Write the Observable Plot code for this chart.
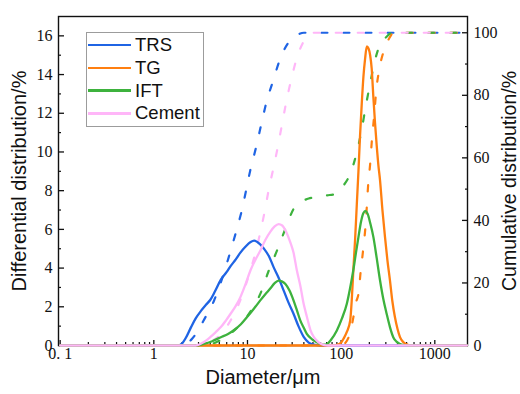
<!DOCTYPE html>
<html>
<head>
<meta charset="utf-8">
<script src="https://cdn.jsdelivr.net/npm/d3@7"></script>
<script src="https://cdn.jsdelivr.net/npm/@observablehq/plot@0.6"></script>
<style>
  body { margin: 0; background: #fff; }
  #chart { position: relative; width: 520px; height: 394px; }
  .legend { position: absolute; left: 86px; top: 32px; width: 118px; height: 95px; box-sizing: border-box;
            border: 1px solid #9c9c9c; background: #fff; font-family: "Liberation Sans", Arial, sans-serif;
            font-size: 18.5px; color: #111; }
  .legend .row { position: absolute; left: 0; height: 22px; display: flex; align-items: center; }
  .legend .sw { width: 43px; height: 2.5px; margin-left: 1px; margin-right: 4px; }
</style>
</head>
<body>
<div id="chart"></div>
<script>
// Particle size distributions: [diameter in µm, value in %]
const seriesNames = ["TRS", "TG", "IFT", "Cement"];
const seriesColors = ["#1f64e4", "#ff7f10", "#3db23d", "#ffb6f8"];

// Differential distribution (%), left axis
const trsDiff = [[0.1,0],[1.8,0],[2.0,0.1],[2.2,0.4],[2.5,0.95],[2.8,1.4],[3.2,1.8],[3.6,2.1],[4.0,2.35],[4.5,2.8],[5.2,3.4],[6.0,3.8],[6.6,4.1],[7.5,4.45],[8.4,4.8],[9.5,5.1],[10.8,5.35],[11.8,5.42],[13.5,5.25],[15,5.0],[17,4.6],[19,4.05],[21.5,3.5],[24.3,2.85],[27.5,2.2],[31,1.64],[35,1.0],[40,0.43],[45,0.15],[51,0.04],[60,0],[2200,0]];
const tgDiff = [[0.1,0],[80,0],[90,0.03],[100,0.15],[106,0.35],[115,0.7],[125,1.3],[130,2.4],[135,3.9],[141,5.5],[147,7.3],[153,9.0],[159,10.8],[166,12.5],[173,13.9],[180,14.8],[188,15.45],[196,15.35],[204,15.0],[212,14.3],[221,12.8],[230,11.5],[240,10.3],[250,9.3],[260,8.55],[276,7.0],[294,5.6],[312,4.4],[332,3.37],[352,2.3],[375,1.47],[400,0.85],[425,0.43],[460,0.18],[500,0.06],[550,0],[2200,0]];
const iftDiff = [[0.1,0],[2.8,0],[3.4,0.08],[4.2,0.22],[5.2,0.43],[6.2,0.6],[7.2,0.8],[8.5,1.1],[9.9,1.47],[11.7,1.9],[13.7,2.33],[15.5,2.65],[17.5,2.94],[19.5,3.22],[21.5,3.35],[23.5,3.3],[25.4,3.18],[28,2.85],[31,2.33],[33.8,1.8],[36.6,1.3],[40,0.9],[43,0.6],[49,0.32],[55,0.17],[61,0.08],[66,0.04],[70,0.06],[78,0.3],[90,0.78],[102,1.4],[115,2.16],[125,3.0],[135,3.9],[144,4.8],[153,5.6],[163,6.4],[173,6.85],[182,6.95],[192,6.8],[205,6.3],[221,5.6],[240,4.5],[260,3.37],[282,2.4],[306,1.64],[332,0.95],[360,0.43],[390,0.2],[425,0.08],[470,0.02],[520,0],[2200,0]];
const cementDiff = [[0.1,0],[2.8,0],[3.2,0.1],[3.6,0.25],[4.0,0.43],[4.6,0.7],[5.2,0.95],[5.9,1.3],[6.6,1.64],[7.5,2.05],[8.4,2.5],[9.5,3.15],[10.8,3.9],[12.2,4.45],[13.7,4.9],[15.5,5.45],[17.5,5.87],[19.5,6.15],[21.5,6.27],[23.5,6.2],[26,5.85],[28.8,5.3],[31,4.8],[33.6,3.9],[36.6,3.1],[40,2.1],[43,1.5],[47,0.8],[51,0.45],[55,0.25],[60,0.1],[66,0.02],[72,0],[2200,0]];

// Cumulative distribution (%), right axis
const trsCum = [[0.1,0],[2.0,0],[2.5,1.8],[3.0,5],[3.4,8],[4.4,14.4],[5.3,21],[6.3,28.2],[7.45,35.7],[8.6,42.6],[10.9,57],[12.4,63.6],[14,70.6],[15.9,77.7],[18.8,84.7],[22.1,91.3],[28.2,97.4],[35,99.5],[40,100],[2200,100]];
const tgCum = [[0.1,0],[100,0],[112,1],[120,2.6],[128,5.5],[135,9],[145,14],[153,16.5],[162,24],[173,31.4],[183,39],[195,52],[204,58],[214,66.5],[226,74],[236,81],[256,88.4],[294,95.3],[330,98.5],[360,100],[2200,100]];
const iftCum = [[0.1,0],[3.5,0],[4.6,1],[6.9,4.3],[10.3,10],[13.7,16.5],[16.9,24],[20.7,30.4],[25.4,37.3],[31.1,43.7],[38,46],[45,47],[52.8,47.4],[70,48],[88,48.5],[105,51],[125,54.9],[147,61.8],[165,68.7],[183,76.4],[204,83.8],[229,91],[264,96.6],[300,98.5],[350,100],[2200,100]];
const cementCum = [[0.1,0],[3.0,0],[3.5,0.5],[4.5,2],[5.5,4.5],[6.6,8],[8,13],[9.5,19],[11,25],[12.5,31],[13.7,36.2],[15.2,42.6],[16.9,50],[19,57],[21.2,63.9],[23.4,70.8],[26,78],[29.2,84.9],[33.8,92.1],[42,98.3],[50,100],[2200,100]];

// Tick values
const xMajor = [0.1, 1, 10, 100, 1000];
const xMinor = [0.1, 1, 10, 100].flatMap(k => [2,3,4,5,6,7,8,9].map(m => +(m * k).toPrecision(3)));
const yMajor = [0, 2, 4, 6, 8, 10, 12, 14, 16];
const yMinor = [1, 3, 5, 7, 9, 11, 13, 15];
const cumMajor = [0, 20, 40, 60, 80, 100];
const cumMinor = [10, 30, 50, 70, 90];

const diffSets = [trsDiff, tgDiff, iftDiff, cementDiff];
const cumSets = [trsCum, tgCum, iftCum, cementCum];

// Right axis (cumulative %) shares the frame with the left axis
const cumToLeft = d3.scaleLinear([0, 105.2], [0, 17]);

const serif = "Liberation Serif, Times New Roman, serif";
const sans = "Liberation Sans, Arial, sans-serif";

const marks = [
  Plot.frame({stroke: "#111", strokeWidth: 1.4}),
  // x axis: inward ticks and labels
  Plot.axisX(xMajor, {anchor: "bottom", tickSize: 5, dy: -5, fill: "none", stroke: "#111", strokeWidth: 1.3, label: null}),
  Plot.axisX(xMinor, {anchor: "bottom", tickSize: 3, dy: -3, fill: "none", stroke: "#111", strokeWidth: 1.2, label: null}),
  Plot.axisX(xMajor, {anchor: "bottom", tickSize: 0, tickPadding: 2, label: null, fill: "#111", fontFamily: serif, fontSize: 16,
    tickFormat: d => d === 0.1 ? "0. 1" : String(d)}),
  // left axis
  Plot.axisY(yMajor, {anchor: "left", tickSize: 6, dx: 6, fill: "none", stroke: "#111", strokeWidth: 1.3, label: null}),
  Plot.axisY(yMinor, {anchor: "left", tickSize: 3, dx: 3, fill: "none", stroke: "#111", strokeWidth: 1.2, label: null}),
  Plot.axisY(yMajor, {anchor: "left", tickSize: 0, tickPadding: 6, label: null, fill: "#111", fontFamily: serif, fontSize: 16}),
  // right axis (cumulative)
  Plot.axisY(cumMajor.map(cumToLeft), {anchor: "right", tickSize: 6, dx: -6, fill: "none", stroke: "#111", strokeWidth: 1.3, label: null}),
  Plot.axisY(cumMinor.map(cumToLeft), {anchor: "right", tickSize: 3, dx: -3, fill: "none", stroke: "#111", strokeWidth: 1.2, label: null}),
  Plot.axisY(cumMajor.map(cumToLeft), {anchor: "right", tickSize: 0, tickPadding: 6, label: null, fill: "#111", fontFamily: serif, fontSize: 16,
    tickFormat: d => String(Math.round(cumToLeft.invert(d)))}),
  // axis titles
  Plot.text(["Differential distribution/%"], {frameAnchor: "left", textAnchor: "middle", dx: -39, rotate: -90, fontFamily: sans, fontSize: 20, fill: "#111"}),
  Plot.text(["Cumulative distribution/%"], {frameAnchor: "right", textAnchor: "middle", dx: 42, rotate: -90, fontFamily: sans, fontSize: 19.5, fill: "#111"}),
  Plot.text(["Diameter/μm"], {frameAnchor: "bottom", dy: 38, fontFamily: sans, fontSize: 20, fill: "#111"})
];

// Cumulative curves (dashed)
cumSets.forEach((set, i) => {
  marks.push(Plot.line(set, {x: d => d[0], y: d => cumToLeft(d[1]), stroke: seriesColors[i], strokeWidth: 2.2,
    strokeDasharray: "6,16", curve: "monotone-x"}));
});
// Differential curves (solid)
diffSets.forEach((set, i) => {
  marks.push(Plot.line(set, {x: d => d[0], y: d => d[1], stroke: seriesColors[i], strokeWidth: 2.3, curve: "monotone-x"}));
});

const chart = Plot.plot({
  width: 520,
  height: 394,
  marginLeft: 58,
  marginRight: 53,
  marginTop: 16,
  marginBottom: 49,
  style: {background: "#fff", overflow: "visible", fontFamily: serif},
  x: {type: "log", domain: [0.096, 2234]},
  y: {domain: [0, 17]},
  marks
});

const root = document.getElementById("chart");
root.appendChild(chart);

// Legend box inside the frame
const legend = document.createElement("div");
legend.className = "legend";
seriesNames.forEach((name, i) => {
  const row = document.createElement("div");
  row.className = "row";
  row.style.top = (1 + i * 22.8) + "px";
  const sw = document.createElement("div");
  sw.className = "sw";
  sw.style.background = seriesColors[i];
  const label = document.createElement("span");
  label.textContent = name;
  row.appendChild(sw);
  row.appendChild(label);
  legend.appendChild(row);
});
root.appendChild(legend);
</script>
</body>
</html>
